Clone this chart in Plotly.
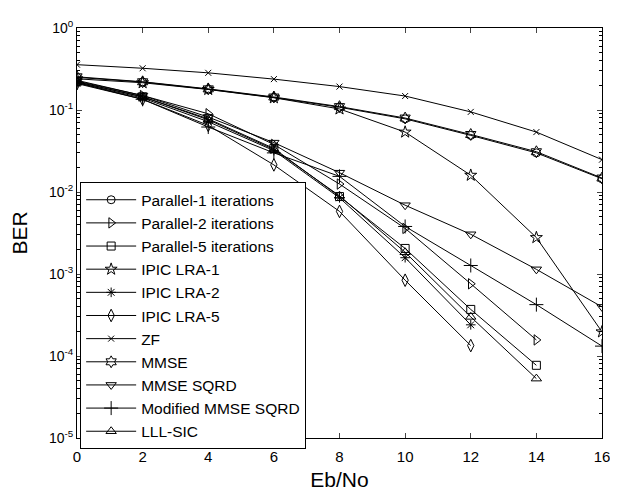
import plotly.graph_objects as go

snr = [0, 2, 4, 6, 8, 10, 12, 14, 16]

parallel_1 = [0.250, 0.219, 0.179, 0.142, 0.108, 0.078, 0.049, 0.030, 0.0145]
parallel_2 = [0.225, 0.150, 0.090, 0.038, 0.0125, 0.0036, 0.00076, 0.000157]
parallel_5 = [0.220, 0.145, 0.078, 0.034, 0.0088, 0.00205, 0.00037, 0.000077]
ipic_lra_1 = [0.240, 0.215, 0.178, 0.141, 0.103, 0.0538, 0.0160, 0.00278, 0.000197]
ipic_lra_2 = [0.215, 0.140, 0.072, 0.032, 0.0085, 0.00158, 0.00024]
ipic_lra_5 = [0.210, 0.135, 0.065, 0.0214, 0.0058, 0.00084, 0.000134]
zf = [0.357, 0.323, 0.284, 0.238, 0.193, 0.148, 0.0948, 0.0538, 0.0248]
mmse = [0.254, 0.221, 0.181, 0.144, 0.110, 0.0798, 0.0503, 0.031, 0.0148]
mmse_sqrd = [0.230, 0.150, 0.082, 0.040, 0.0172, 0.0069, 0.00305, 0.00114, 0.000397]
mod_mmse_sqrd = [0.215, 0.135, 0.062, 0.030, 0.0155, 0.0038, 0.00127, 0.000423, 0.000132]
lll_sic = [0.220, 0.145, 0.076, 0.033, 0.0090, 0.00184, 0.00030, 0.000053]

series = [
    ("Parallel-1 iterations", parallel_1, "circle-open", 8),
    ("Parallel-2 iterations", parallel_2, "triangle-right-open", 9),
    ("Parallel-5 iterations", parallel_5, "square-open", 8),
    ("IPIC LRA-1", ipic_lra_1, "star-open", 9),
    ("IPIC LRA-2", ipic_lra_2, "asterisk-open", 8),
    ("IPIC LRA-5", ipic_lra_5, "diamond-tall-open", 9),
    ("ZF", zf, "x-thin-open", 6),
    ("MMSE", mmse, "hexagram-open", 9),
    ("MMSE SQRD", mmse_sqrd, "triangle-down-open", 9),
    ("Modified MMSE SQRD", mod_mmse_sqrd, "cross-thin-open", 10),
    ("LLL-SIC", lll_sic, "triangle-up-open", 9),
]

ytick_vals = [1, 0.1, 0.01, 0.001, 0.0001, 0.00001]
ytick_text = ["10<sup>0</sup>", "10<sup>-1</sup>", "10<sup>-2</sup>",
              "10<sup>-3</sup>", "10<sup>-4</sup>", "10<sup>-5</sup>"]
minor_vals = [m * 10 ** e for e in range(-5, 0) for m in range(2, 10)]

fig = go.Figure()
for name, vals, sym, size in series:
    fig.add_trace(go.Scatter(
        x=snr[:len(vals)], y=vals, name=name, mode="lines+markers",
        line=dict(color="black", width=1),
        marker=dict(symbol=sym, size=size, color="black",
                    line=dict(color="black", width=1)),
    ))

# empty helper trace so the mirrored right-hand log axis (minor ticks) is drawn
fig.add_trace(go.Scatter(x=[None], y=[None], yaxis="y2", showlegend=False,
                         hoverinfo="skip"))

font = "Liberation Sans, Arial, sans-serif"
fig.update_layout(
    width=610, height=488,
    margin=dict(l=69, r=8, t=20, b=50),
    paper_bgcolor="white", plot_bgcolor="white",
    font=dict(family=font, color="black", size=14),
    showlegend=True,
    legend=dict(
        x=0.006, y=0.624, xanchor="left", yanchor="top",
        bordercolor="black", borderwidth=1, bgcolor="white",
        font=dict(size=15.5, family=font), itemwidth=50,
        tracegroupgap=0,
    ),
    xaxis=dict(
        range=[0, 16], dtick=2, tick0=0,
        ticks="inside", ticklen=5, mirror="ticks", showline=True,
        linecolor="black", linewidth=1, showgrid=False, zeroline=False,
        tickfont=dict(size=15), ticklabelstandoff=5,
        title=dict(text="Eb/No", font=dict(size=21), standoff=8),
    ),
    yaxis=dict(
        type="log", range=[-5, 0],
        tickvals=ytick_vals, ticktext=ytick_text,
        ticks="inside", ticklen=5, mirror="ticks", showline=True,
        linecolor="black", linewidth=1, showgrid=False, zeroline=False,
        tickfont=dict(size=14),
        minor=dict(tickvals=minor_vals, ticks="inside", ticklen=3,
                   tickcolor="black", showgrid=False),
        title=dict(text="BER", font=dict(size=21), standoff=18),
    ),
    yaxis2=dict(
        type="log", range=[-5, 0], overlaying="y", side="right",
        tickvals=ytick_vals, showticklabels=False,
        ticks="inside", ticklen=5, showline=False, showgrid=False,
        zeroline=False,
        minor=dict(tickvals=minor_vals, ticks="inside", ticklen=3,
                   tickcolor="black", showgrid=False),
    ),
)

fig.write_html("out.html")
